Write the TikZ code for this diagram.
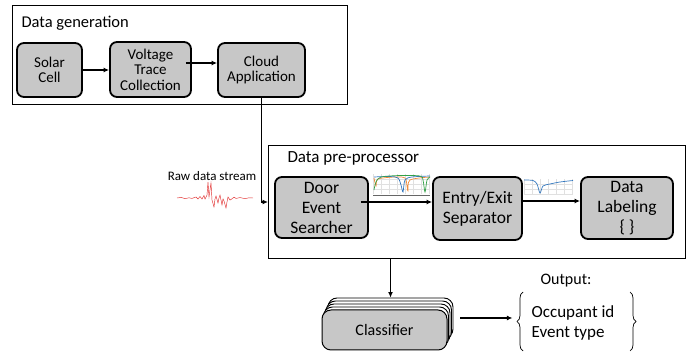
\documentclass[tikz,border=0pt]{standalone}
\usepackage{fontspec}
\setmainfont{Carlito}
\usetikzlibrary{arrows.meta,decorations.pathreplacing}
\definecolor{traceblue}{RGB}{52,120,190}
\definecolor{traceorange}{RGB}{240,140,60}
\definecolor{tracegreen}{RGB}{50,160,70}
\definecolor{rawred}{RGB}{225,45,45}
\begin{document}
\begin{tikzpicture}[x=1pt, y=-1pt,
% common options for the grey blocks:
block/.style = {draw, fill=black!22, line width=1.8pt, rounded corners=7pt,
            align=center, inner sep=0},
% common options for the two frames:
frame/.style = {draw, line width=1.1pt, anchor=north west, inner sep=0},
% common options for the arrows:
flow/.style = {-{Latex[length=5.5pt,width=5pt]}, line width=1.6pt},
smalltext/.style = {font=\fontsize{15}{15.5}\selectfont},
largetext/.style = {font=\fontsize{17.5}{20}\selectfont},
gridline/.style = {black!12, line width=0.3pt},
curve/.style = {line width=0.7pt}]
\useasboundingbox (0,0) rectangle (693,352);
% data generation
\node[frame, minimum width=335pt, minimum height=99pt] (gen) at (12,5) {};
\node[anchor=west, font=\fontsize{16.5}{18}\selectfont] (genT) at (18,23) {Data generation};
\node[block, smalltext, minimum width=65pt, minimum height=54pt] (solar) at (49.5,70) {Solar\\Cell};
\node[block, smalltext, minimum width=81pt, minimum height=55pt] (trace) at (150.5,69.5) {Voltage\\Trace\\Collection};
\node[block, smalltext, minimum width=87pt, minimum height=54pt] (cloud) at (261.5,70) {Cloud\\Application};
\draw[flow] (solar.east) -- (solar.east -| trace.west);
\coordinate (t1) at ([xshift=-6pt,yshift=6.5pt]trace.east);
\draw[flow] (t1) -- (t1 -| cloud.west);
% data pre-processor
\node[frame, minimum width=417pt, minimum height=113pt] (pre) at (268,145) {};
\node[anchor=west, font=\fontsize{17}{19}\selectfont] (preT) at (284,158) {Data pre-processor};
\node[block, largetext, minimum width=93pt, minimum height=61pt] (door) at (321.5,207.5) {Door\\Event\\Searcher};
\node[block, largetext, minimum width=89pt, minimum height=63pt] (sep) at (477.5,208.5) {Entry/Exit\\Separator};
\node[block, largetext, minimum width=92pt, minimum height=62pt] (label) at (627,208) {Data\\Labeling\\\{ \}};
\draw[flow] (cloud.south) |- ([yshift=5.5pt]pre.west |- door.center);
\coordinate (d1) at ([xshift=-8pt,yshift=5.5pt]door.east);
\draw[flow] (d1) -- (d1 -| sep.west);
\coordinate (s1) at ([xshift=-2pt,yshift=7.5pt]sep.east);
\draw[flow] (s1) -- (s1 -| label.west);
% raw data stream
\node[font=\fontsize{13}{15}\selectfont] (raw) at (212,176) {Raw data stream};
\draw[rawred, line width=0.45pt] plot coordinates {(177,198) (181,197.4) (185,198.6) (189,197.8) (192,198.4) (196,197) (198,199)
  (200,196.5) (202,199) (204,195.5) (205,199) (207,195) (208,182) (209,197) (211,183) (212,200) (214,207)
  (215,199) (216,196) (218,203) (219,198) (220,195) (222,205) (223,199) (224,201) (226,208) (227,202) (228,197)
  (230,200) (231,199.5) (234,197.2) (236,198.4) (240,197.6) (245,198.6) (249,197.8) (253,198)};
% traces of the door events
\foreach \gx in {373,381,...,429} \draw[gridline] (\gx,174) -- (\gx,194);
\foreach \gy in {179,184,189} \draw[gridline] (373,\gy) -- (430,\gy);
\draw[black!60, line width=0.5pt] (373,195) -- (430,195);
\draw[traceorange, curve] plot[smooth] coordinates {(374,178) (376,186) (378,179) (395,177) (405,178) (407,186) (408,191) (410,180) (430,177)};
\draw[traceblue, curve] plot[smooth] coordinates {(374,177) (390,176.5) (398,178) (401,185) (403,192) (405,180) (412,177) (430,176)};
\draw[tracegreen, curve] plot[smooth] coordinates {(374,190) (376,182) (381,177) (400,175.5) (420,176) (423,180) (425,192) (427,180) (430,177)};
\foreach \gx in {524,532,...,572} \draw[gridline] (\gx,179) -- (\gx,195);
\foreach \gy in {184,189,194} \draw[gridline] (524,\gy) -- (573,\gy);
\draw[traceblue, curve] plot[smooth] coordinates {(524,180) (533,180.5) (537,184) (540,193) (543,186) (550,184) (560,182) (573,180.5)};
% classifier stack
\foreach \i in {4,3,2,1}
  \node[draw, fill=white, line width=0.9pt, rounded corners=9pt, minimum width=125pt, minimum height=40pt] (cls\i) at (384.5+1.5*\i, 330-3*\i) {};
\node[block, line width=1pt, rounded corners=9pt, minimum width=125pt, minimum height=40pt,
  font=\fontsize{16}{18}\selectfont] (cls) at (384.5,330) {Classifier};
\draw[flow] (cls4.north |- pre.south) -- (cls4.north);
% output
\node[align=left, inner sep=0, font=\fontsize{17}{20}\selectfont] (out) at (573,323) {Occupant id\\Event type};
\node[font=\fontsize{16}{18}\selectfont] (outT) at (566,281) {Output:};
\draw[flow] ([xshift=7pt]cls4.east) -- ([xshift=-19pt]out.west |- cls4.east);
\draw[decorate, decoration={brace, amplitude=6pt}, line width=0.7pt] (523,351) -- (523,292);
\draw[decorate, decoration={brace, amplitude=6pt}, line width=0.7pt] (630,292) -- (630,351);
\end{tikzpicture}
\end{document}
